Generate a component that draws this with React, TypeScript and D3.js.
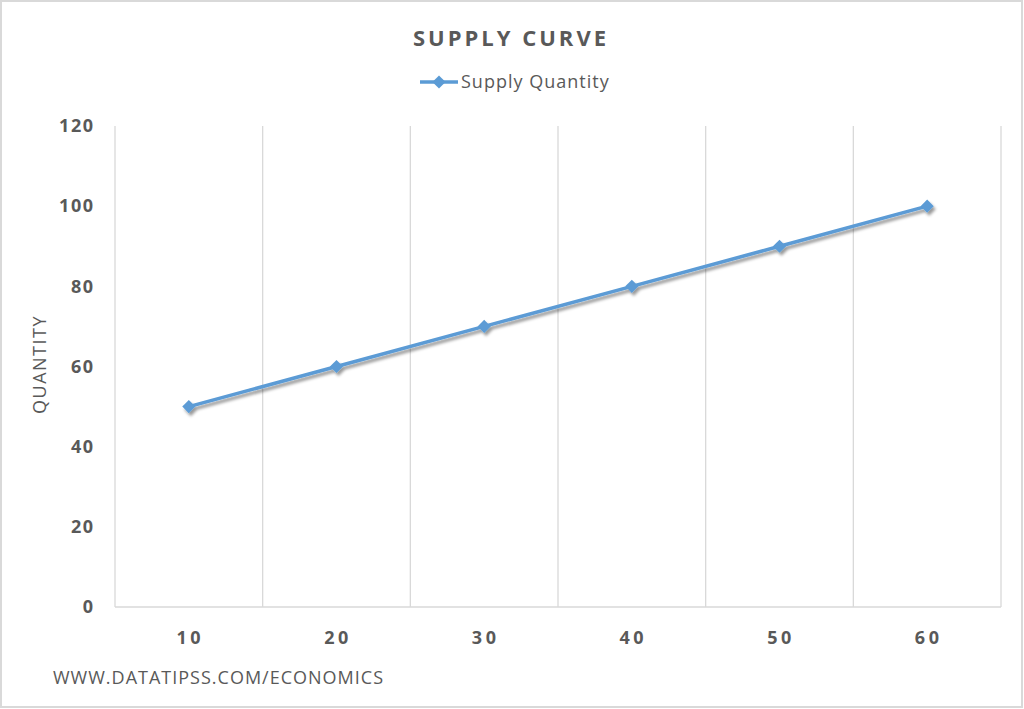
import React, { useEffect, useRef } from 'react';
import * as d3 from 'd3';

const prices = ['10', '20', '30', '40', '50', '60'];
const supplyQuantity = [50, 60, 70, 80, 90, 100];
const yTicks = [0, 20, 40, 60, 80, 100, 120];

const W = 1024;
const H = 709;

const App: React.FC = () => {
  const ref = useRef<SVGSVGElement | null>(null);

  useEffect(() => {
    if (!ref.current) return;
    const svg = d3.select(ref.current);
    svg.selectAll('*').remove();

    const margin = { top: 126, right: 23, bottom: 102, left: 115 };
    const width = W - margin.left - margin.right;
    const height = H - margin.top - margin.bottom;
    const textColor = '#595959';
    const font = '"Open Sans", "Liberation Sans", sans-serif';

    // chart border
    svg.append('rect')
      .attr('x', 1).attr('y', 1)
      .attr('width', W - 3).attr('height', H - 3)
      .attr('fill', '#fff')
      .attr('stroke', '#d9d9d9')
      .attr('stroke-width', 2);

    const defs = svg.append('defs');
    const filter = defs.append('filter').attr('id', 'shadow')
      .attr('x', '-10%').attr('y', '-10%').attr('width', '120%').attr('height', '140%');
    filter.append('feDropShadow')
      .attr('dx', 2).attr('dy', 3).attr('stdDeviation', 1.8)
      .attr('flood-color', '#000').attr('flood-opacity', 0.4);

    const x = d3.scaleBand().domain(prices).range([0, width]);
    const y = d3.scaleLinear().domain([0, 120]).range([height, 0]);

    const g = svg.append('g').attr('transform', `translate(${margin.left},${margin.top})`);

    // vertical gridlines at category boundaries
    const bounds = prices.map(p => x(p) as number).concat([width]);
    g.selectAll('line.grid')
      .data(bounds)
      .enter()
      .append('line')
      .attr('class', 'grid')
      .attr('x1', d => d).attr('x2', d => d)
      .attr('y1', 0).attr('y2', height)
      .attr('stroke', '#d9d9d9')
      .attr('stroke-width', 1.3);

    // bottom axis line
    g.append('line')
      .attr('x1', 0).attr('x2', width)
      .attr('y1', height).attr('y2', height)
      .attr('stroke', '#d9d9d9')
      .attr('stroke-width', 1.3);

    // y tick labels
    g.selectAll('text.ytick')
      .data(yTicks)
      .enter()
      .append('text')
      .attr('class', 'ytick')
      .attr('x', -20.5)
      .attr('y', d => y(d))
      .attr('dy', '0.35em')
      .attr('text-anchor', 'end')
      .attr('fill', textColor)
      .style('font-family', font)
      .style('font-size', '18px')
      .style('font-weight', 'bold')
      .style('letter-spacing', '1.5px')
      .text(d => d);

    // x tick labels
    g.selectAll('text.xtick')
      .data(prices)
      .enter()
      .append('text')
      .attr('class', 'xtick')
      .attr('x', d => (x(d) as number) + x.bandwidth() / 2 + 1.5)
      .attr('y', height + 31)
      .attr('dy', '0.35em')
      .attr('text-anchor', 'middle')
      .attr('fill', textColor)
      .style('font-family', font)
      .style('font-size', '18px')
      .style('font-weight', 'bold')
      .style('letter-spacing', '3.5px')
      .text(d => d);

    // y axis title
    svg.append('text')
      .attr('transform', `translate(46,${margin.top + height / 2 - 2}) rotate(-90)`)
      .attr('text-anchor', 'middle')
      .attr('fill', textColor)
      .style('font-family', font)
      .style('font-size', '18px')
      .style('letter-spacing', '1.5px')
      .text('QUANTITY');

    const pts = prices.map((p, i) => ({ cx: (x(p) as number) + x.bandwidth() / 2, cy: y(supplyQuantity[i]) }));
    const line = d3.line<{ cx: number; cy: number }>().x(d => d.cx).y(d => d.cy);
    const diamond = d3.symbol().type(d3.symbolDiamond2).size(110);

    const series = g.append('g').attr('filter', 'url(#shadow)');
    series.append('path')
      .datum(pts)
      .attr('d', line)
      .attr('fill', 'none')
      .attr('stroke', '#5b9bd5')
      .attr('stroke-width', 3.5)
      .attr('stroke-linecap', 'round');
    series.selectAll('path.marker')
      .data(pts)
      .enter()
      .append('path')
      .attr('class', 'marker')
      .attr('transform', d => `translate(${d.cx},${d.cy})`)
      .attr('d', diamond)
      .attr('fill', '#5b9bd5');

    // title
    svg.append('text')
      .attr('x', 511)
      .attr('y', 38)
      .attr('dy', '0.35em')
      .attr('text-anchor', 'middle')
      .attr('fill', textColor)
      .style('font-family', font)
      .style('font-size', '22px')
      .style('font-weight', 'bold')
      .style('letter-spacing', '3px')
      .text('SUPPLY CURVE');

    // legend
    const lg = svg.append('g').attr('transform', 'translate(420,82)');
    lg.append('line')
      .attr('x1', 0).attr('x2', 38)
      .attr('y1', 0).attr('y2', 0)
      .attr('stroke', '#5b9bd5')
      .attr('stroke-width', 3.5);
    lg.append('path')
      .attr('transform', 'translate(19,0)')
      .attr('d', diamond)
      .attr('fill', '#5b9bd5');
    lg.append('text')
      .attr('x', 41)
      .attr('y', 0)
      .attr('dy', '0.35em')
      .attr('fill', textColor)
      .style('font-family', font)
      .style('font-size', '18px')
      .style('letter-spacing', '1px')
      .text('Supply Quantity');

    // footer
    svg.append('text')
      .attr('x', 53)
      .attr('y', 678)
      .attr('dy', '0.35em')
      .attr('fill', textColor)
      .style('font-family', font)
      .style('font-size', '18px')
      .style('letter-spacing', '1px')
      .text('WWW.DATATIPSS.COM/ECONOMICS');
  }, []);

  return (
    <svg
      ref={ref}
      width={W}
      height={H}
      style={{ position: 'absolute', left: 0, top: 0, display: 'block' }}
    />
  );
};

export default App;
